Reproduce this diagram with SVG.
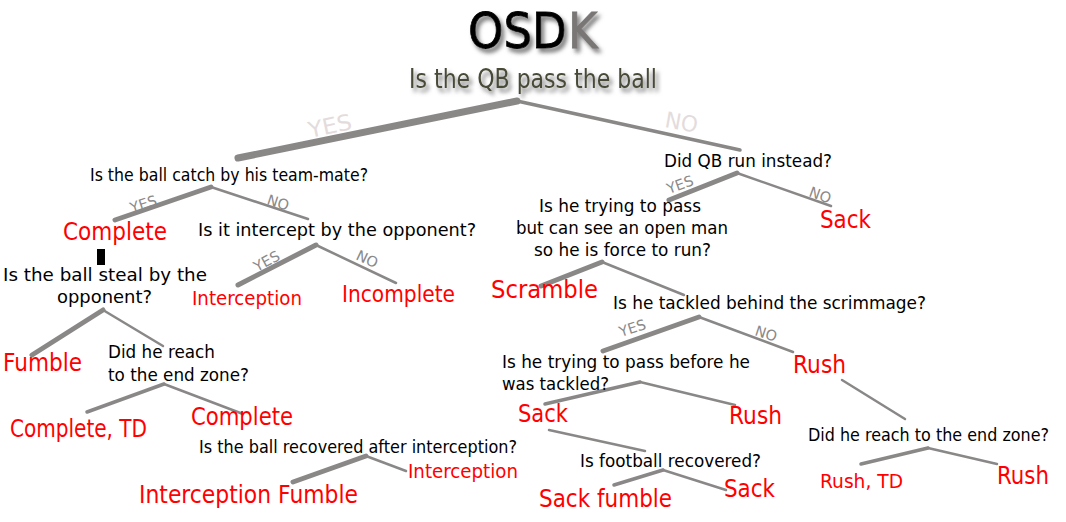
<svg xmlns="http://www.w3.org/2000/svg" width="1066" height="522" viewBox="0 0 1066 522">
<defs>
<style>
text{font-family:"DejaVu Sans","Liberation Sans",sans-serif}
.q{font-size:17px;fill:#000}
.r{fill:#ff0000}
.r24{font-size:24.5px}
.r19{font-size:19.5px}
.lbl{font-size:14.5px;fill:#8a8a8a}
.lite{font-size:22px;fill:#e4dcdc}
.c{stroke:#8a8787;fill:none;stroke-linecap:round;stroke-linejoin:round}
.t1{stroke-width:7}
.t2{stroke-width:5}
.t3{stroke-width:3.5}
.t4{stroke-width:2.5}
</style>
<filter id="sh" x="-10%" y="-30%" width="130%" height="170%">
<feGaussianBlur in="SourceAlpha" stdDeviation="2"/>
<feOffset dx="3" dy="4" result="b"/>
<feFlood flood-color="#777"/>
<feComposite in2="b" operator="in"/>
<feMerge><feMergeNode/><feMergeNode in="SourceGraphic"/></feMerge>
</filter>
</defs>
<rect width="1066" height="522" fill="#fff"/>
<g id="title" filter="url(#sh)">
<g transform="translate(468,48) scale(0.9,1)">
<text x="0" y="0" font-size="50" fill="#000" stroke="#000" stroke-width="0.8">OSD</text>
<text x="111" y="0" font-size="50" fill="#7a7676" stroke="#7a7676" stroke-width="0.8">K</text>
</g>
</g>
<g id="connectors">
<path class="c t1" d="M238,158 L517,101"/>
<path class="c t3" d="M517,101 L740,150"/>
<path class="c t2" d="M115,220 L211,187"/>
<path class="c t4" d="M211,187 L308,219"/>
<path class="c t2" d="M238,285 L316,245"/>
<path class="c t4" d="M316,245 L396,283"/>
<path class="c t2" d="M32,355 L103,310"/>
<path class="c t4" d="M103,310 L163,346"/>
<path class="c t3" d="M87,412 L164,384"/>
<path class="c t4" d="M164,384 L243,414"/>
<path class="c t2" d="M293,482 L366,456"/>
<path class="c t4" d="M366,456 L406,471"/>
<path class="c t2" d="M669,200 L737,173"/>
<path class="c t4" d="M737,173 L831,206"/>
<path class="c t2" d="M541,286 L602,262"/>
<path class="c t4" d="M602,262 L684,295"/>
<path class="c t2" d="M603,351 L699,317"/>
<path class="c t4" d="M699,317 L793,352"/>
<path class="c t3" d="M545,404 L640,382"/>
<path class="c t4" d="M640,382 L735,405"/>
<path class="c t4" d="M549,430 L645,451"/>
<path class="c t3" d="M614,485 L663,470"/>
<path class="c t4" d="M663,470 L726,490"/>
<path class="c t4" d="M842,380 L905,419"/>
<path class="c t3" d="M861,464 L928,448"/>
<path class="c t4" d="M928,448 L997,464"/>
<text class="lite" transform="translate(310,138) rotate(-12)" textLength="44" lengthAdjust="spacingAndGlyphs">YES</text>
<text class="lite" transform="translate(664,127) rotate(10)" textLength="33" lengthAdjust="spacingAndGlyphs">NO</text>
<text class="lbl" transform="translate(132,213) rotate(-18)">YES</text>
<text class="lbl" transform="translate(266,204) rotate(18)">NO</text>
<text class="lbl" transform="translate(257,272) rotate(-28)">YES</text>
<text class="lbl" transform="translate(355,259) rotate(25)">NO</text>
<text class="lbl" transform="translate(669,194) rotate(-20)">YES</text>
<text class="lbl" transform="translate(808,196) rotate(20)">NO</text>
<text class="lbl" transform="translate(621,337) rotate(-18)">YES</text>
<text class="lbl" transform="translate(754,335) rotate(18)">NO</text>
</g>
<g id="n-root" filter="url(#sh)">
<text x="409" y="88" font-size="26" fill="#4a4a38" textLength="248" lengthAdjust="spacingAndGlyphs">Is the QB pass the ball</text>
</g>
<g id="n-catch"><text class="q" x="90" y="181" textLength="278" lengthAdjust="spacingAndGlyphs">Is the ball catch by his team-mate?</text></g>
<g id="n-complete1"><text class="r r24" x="63" y="240" textLength="104" lengthAdjust="spacingAndGlyphs">Complete</text><rect x="97" y="249" width="8" height="16" fill="#000"/></g>
<g id="n-intercept"><text class="q" x="198" y="236" textLength="278" lengthAdjust="spacingAndGlyphs">Is it intercept by the opponent?</text></g>
<g id="n-interception1"><text class="r r19" x="192" y="305" textLength="110" lengthAdjust="spacingAndGlyphs">Interception</text></g>
<g id="n-incomplete"><text class="r" font-size="23" x="342" y="302" textLength="113" lengthAdjust="spacingAndGlyphs">Incomplete</text></g>
<g id="n-steal"><text class="q" x="3" y="281" textLength="204" lengthAdjust="spacingAndGlyphs">Is the ball steal by the</text><text class="q" x="57" y="303" textLength="95" lengthAdjust="spacingAndGlyphs">opponent?</text></g>
<g id="n-fumble"><text class="r r24" x="3" y="371" textLength="79" lengthAdjust="spacingAndGlyphs">Fumble</text></g>
<g id="n-reach1"><text class="q" x="108" y="358" textLength="107" lengthAdjust="spacingAndGlyphs">Did he reach</text><text class="q" x="108" y="381" textLength="141" lengthAdjust="spacingAndGlyphs">to the end zone?</text></g>
<g id="n-completetd"><text class="r r24" x="10" y="437" textLength="137" lengthAdjust="spacingAndGlyphs">Complete, TD</text></g>
<g id="n-complete2"><text class="r r24" x="191" y="425" textLength="102" lengthAdjust="spacingAndGlyphs">Complete</text></g>
<g id="n-recovered"><text class="q" x="199" y="453" textLength="318" lengthAdjust="spacingAndGlyphs">Is the ball recovered after interception?</text></g>
<g id="n-interception2"><text class="r r19" x="408" y="478" textLength="110" lengthAdjust="spacingAndGlyphs">Interception</text></g>
<g id="n-intfumble"><text class="r r24" x="139" y="503" textLength="219" lengthAdjust="spacingAndGlyphs">Interception Fumble</text></g>
<g id="n-run"><text class="q" x="664" y="167" textLength="168" lengthAdjust="spacingAndGlyphs">Did QB run instead?</text></g>
<g id="n-sack1"><text class="r r24" x="820" y="228" textLength="51" lengthAdjust="spacingAndGlyphs">Sack</text></g>
<g id="n-trying"><text class="q" x="539" y="212" textLength="162" lengthAdjust="spacingAndGlyphs">Is he trying to pass</text><text class="q" x="516" y="234" textLength="212" lengthAdjust="spacingAndGlyphs">but can see an open man</text><text class="q" x="534" y="256" textLength="177" lengthAdjust="spacingAndGlyphs">so he is force to run?</text></g>
<g id="n-scramble"><text class="r r24" x="491" y="298" textLength="107" lengthAdjust="spacingAndGlyphs">Scramble</text></g>
<g id="n-tackled"><text class="q" x="613" y="309" textLength="313" lengthAdjust="spacingAndGlyphs">Is he tackled behind the scrimmage?</text></g>
<g id="n-rush1"><text class="r r24" x="793" y="373" textLength="53" lengthAdjust="spacingAndGlyphs">Rush</text></g>
<g id="n-before"><text class="q" x="502" y="368" textLength="248" lengthAdjust="spacingAndGlyphs">Is he trying to pass before he</text><text class="q" x="502" y="390" textLength="107" lengthAdjust="spacingAndGlyphs">was tackled?</text></g>
<g id="n-sack2"><text class="r r24" x="518" y="422" textLength="50" lengthAdjust="spacingAndGlyphs">Sack</text></g>
<g id="n-rush2"><text class="r r24" x="729" y="424" textLength="53" lengthAdjust="spacingAndGlyphs">Rush</text></g>
<g id="n-football"><text class="q" x="580" y="467" textLength="181" lengthAdjust="spacingAndGlyphs">Is football recovered?</text></g>
<g id="n-sackfumble"><text class="r r24" x="539" y="507" textLength="133" lengthAdjust="spacingAndGlyphs">Sack fumble</text></g>
<g id="n-sack3"><text class="r r24" x="724" y="497" textLength="51" lengthAdjust="spacingAndGlyphs">Sack</text></g>
<g id="n-reach2"><text class="q" x="808" y="441" textLength="241" lengthAdjust="spacingAndGlyphs">Did he reach to the end zone?</text></g>
<g id="n-rushtd"><text class="r r19" x="820" y="488" textLength="83" lengthAdjust="spacingAndGlyphs">Rush, TD</text></g>
<g id="n-rush3"><text class="r r24" x="997" y="484" textLength="52" lengthAdjust="spacingAndGlyphs">Rush</text></g>
</svg>
